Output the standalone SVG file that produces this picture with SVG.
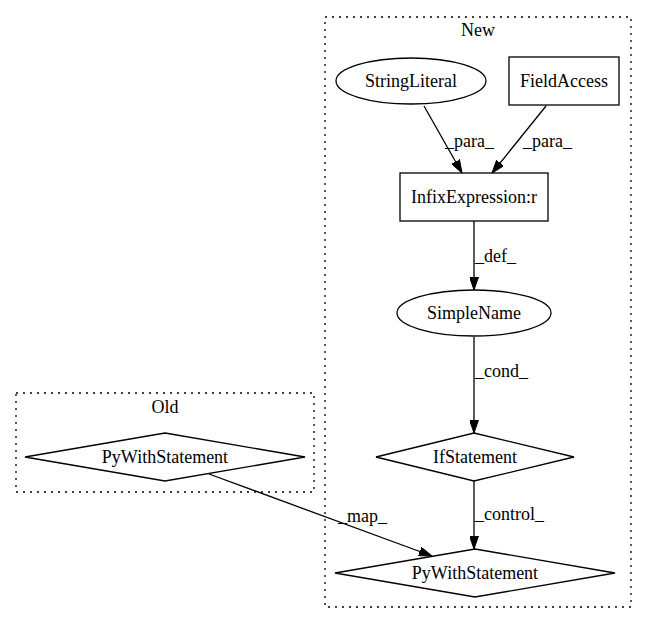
<svg xmlns="http://www.w3.org/2000/svg" width="647" height="624" viewBox="0 0 647 624">
<style>
text{font-family:"Liberation Serif","Times New Roman",serif;font-size:18px;fill:#000}
.n{text-anchor:middle}
.s{fill:none;stroke:#000;stroke-width:1.3}
.c{fill:none;stroke:#000;stroke-width:1.3;stroke-dasharray:2,5}
.e{fill:none;stroke:#000;stroke-width:1.3;marker-end:url(#a)}
</style>
<defs>
<marker id="a" viewBox="0 0 13 9" refX="13" refY="4.5" markerWidth="13" markerHeight="9" markerUnits="userSpaceOnUse" orient="auto">
<path d="M0,0 L13,4.5 L0,9 z" fill="#000" stroke="#000" stroke-width="1"/>
</marker>
</defs>
<rect width="647" height="624" fill="#fff"/>
<g id="cluster_new">
<rect class="c" x="325" y="17" width="306" height="590"/>
<text class="n" x="478" y="36">New</text>
</g>
<g id="cluster_old">
<rect class="c" x="16" y="393" width="298" height="99"/>
<text class="n" x="165" y="413">Old</text>
</g>
<g id="edges">
<path class="e" d="M424,106 L462,173"/>
<text x="445" y="147">_para_</text>
<path class="e" d="M546,106 L492,173"/>
<text x="523" y="147">_para_</text>
<path class="e" d="M474,221 L474,290"/>
<text x="475" y="262">_def_</text>
<path class="e" d="M474,337 L474,433"/>
<text x="475" y="377">_cond_</text>
<path class="e" d="M474,481 L474,549"/>
<text x="475" y="520">_control_</text>
<path class="e" d="M209,474 L432,556"/>
<text x="338" y="522">_map_</text>
</g>
<g id="StringLiteral">
<ellipse class="s" cx="411" cy="81" rx="75" ry="23"/>
<text class="n" x="411" y="87">StringLiteral</text>
</g>
<g id="FieldAccess">
<rect class="s" x="509" y="57" width="110" height="48"/>
<text class="n" x="564" y="87">FieldAccess</text>
</g>
<g id="InfixExpression">
<rect class="s" x="400" y="173" width="148" height="48"/>
<text class="n" x="474" y="203">InfixExpression:r</text>
</g>
<g id="SimpleName">
<ellipse class="s" cx="474" cy="313" rx="77" ry="23"/>
<text class="n" x="474" y="319">SimpleName</text>
</g>
<g id="IfStatement">
<polygon class="s" points="474,433 574,457 474,481 376,457"/>
<text class="n" x="475" y="463">IfStatement</text>
</g>
<g id="PyWithStatement_new">
<polygon class="s" points="475,549 615,573 475,597 335,573"/>
<text class="n" x="475" y="579">PyWithStatement</text>
</g>
<g id="PyWithStatement_old">
<polygon class="s" points="165,433 305,457 165,481 25,457"/>
<text class="n" x="165" y="463">PyWithStatement</text>
</g>
</svg>
